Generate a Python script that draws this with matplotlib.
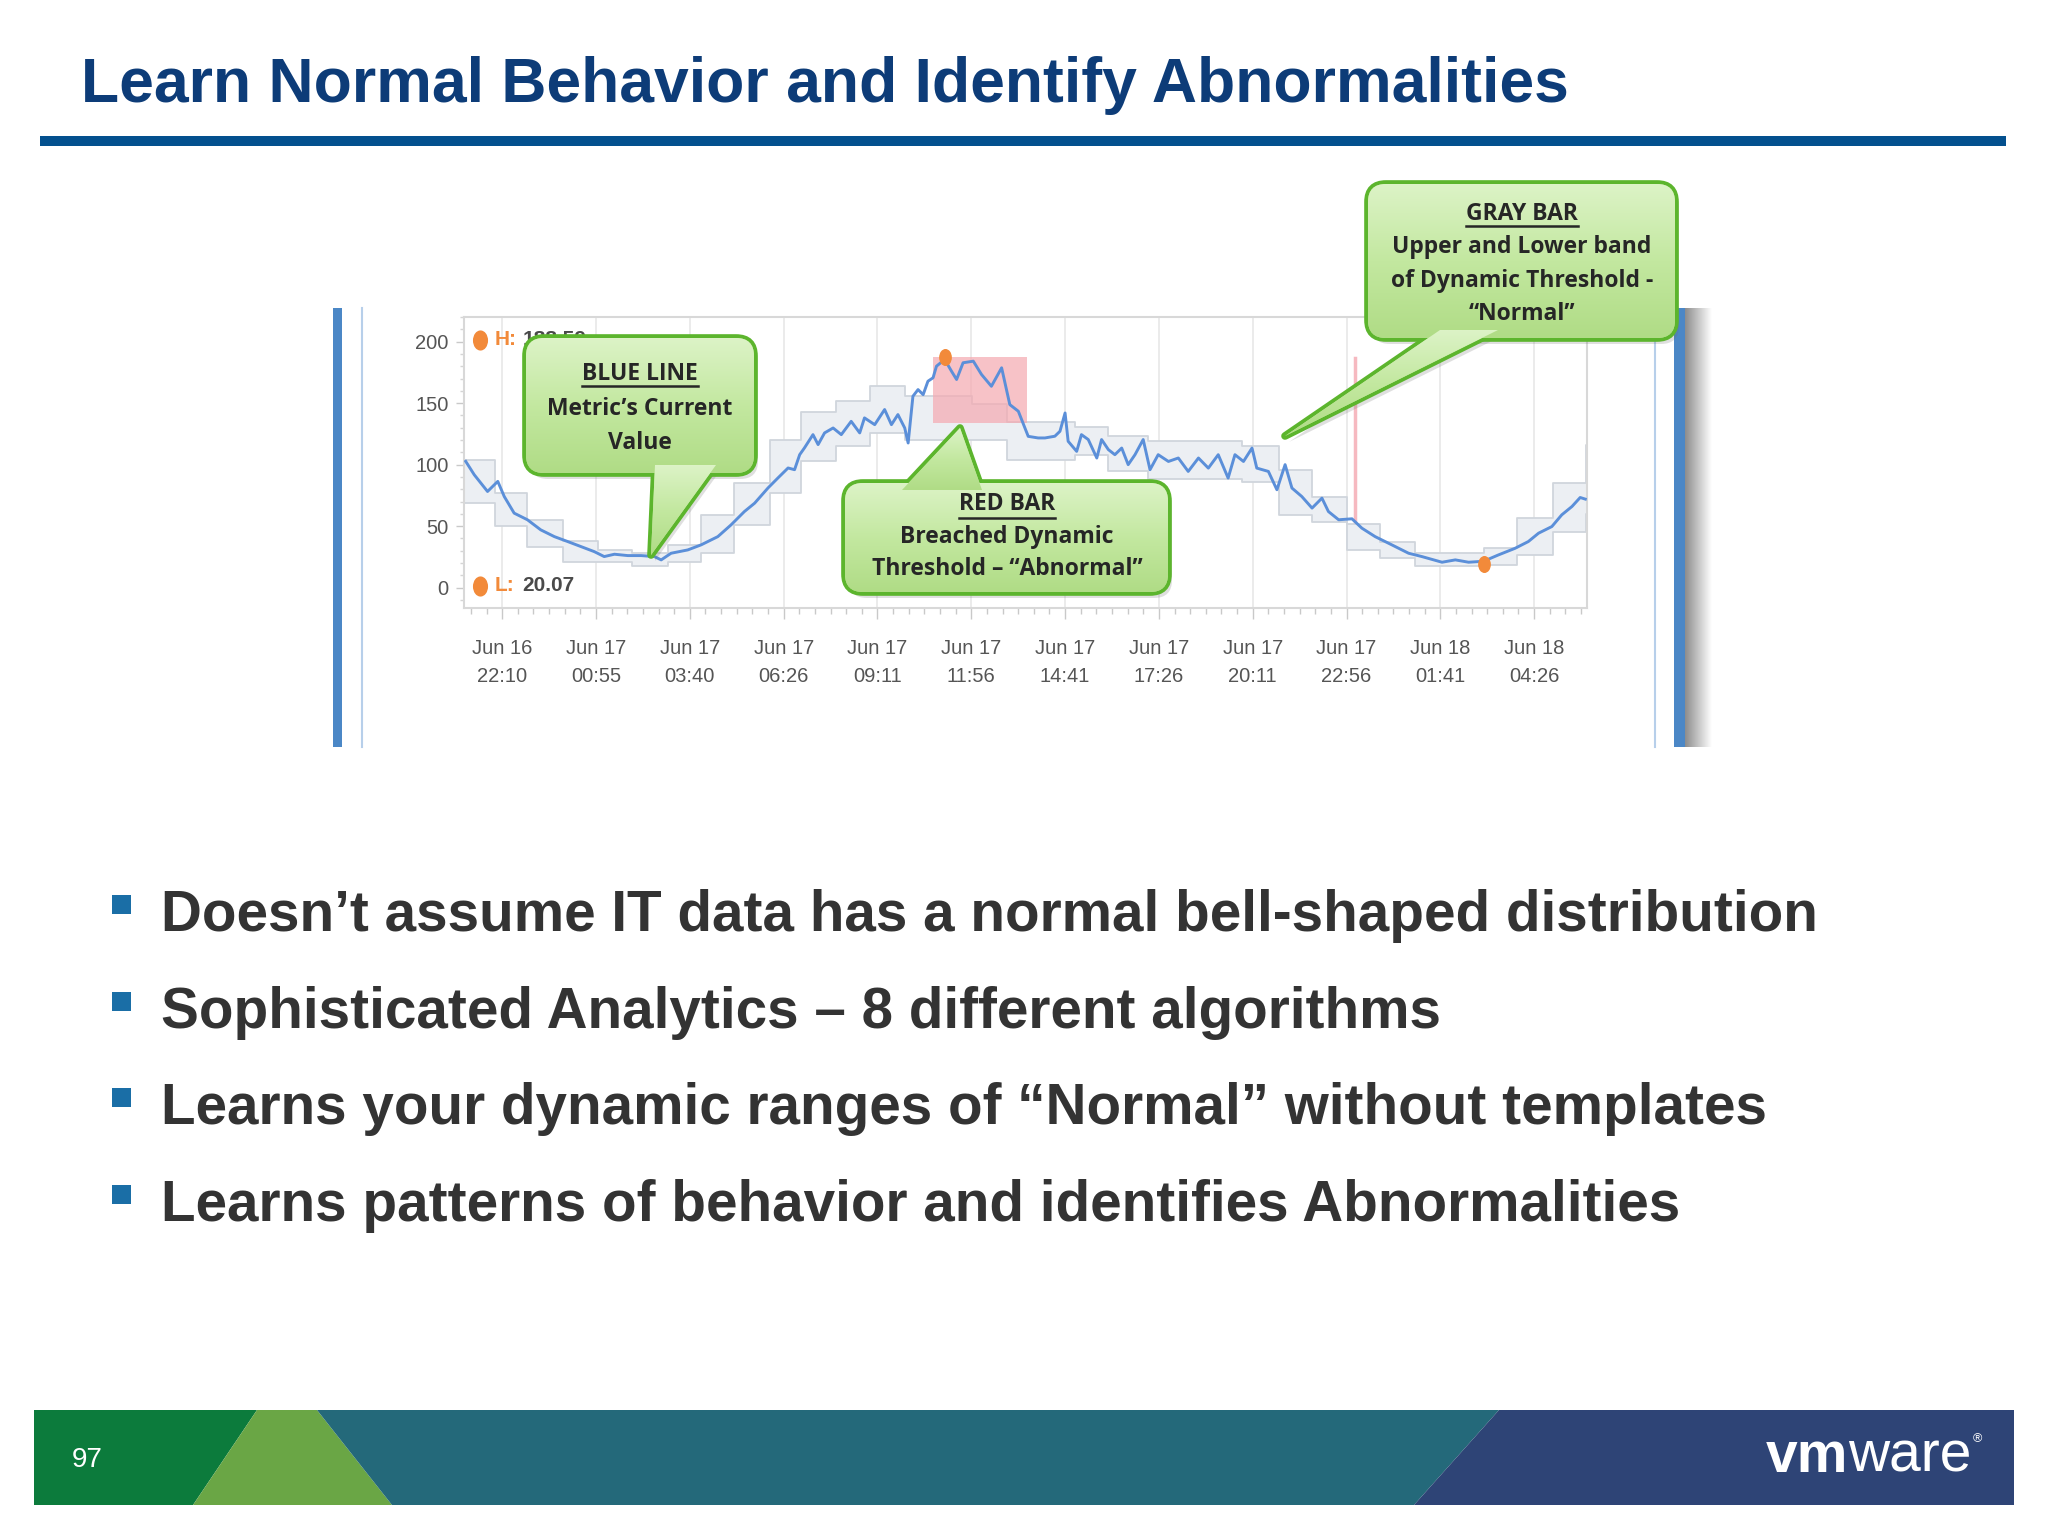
import numpy as np
import matplotlib
matplotlib.use('Agg')
import matplotlib.pyplot as plt
from matplotlib.patches import Rectangle, FancyBboxPatch, Polygon
from matplotlib.markers import MarkerStyle
from matplotlib.transforms import Affine2D
from matplotlib.colors import LinearSegmentedColormap
from matplotlib.ticker import MultipleLocator

W, H = 2048, 1536

title = 'Learn Normal Behavior and Identify Abnormalities'
bullets = [
    'Doesn\u2019t assume IT data has a normal bell-shaped distribution',
    'Sophisticated Analytics \u2013 8 different algorithms',
    'Learns your dynamic ranges of \u201cNormal\u201d without templates',
    'Learns patterns of behavior and identifies Abnormalities',
]
page_number = '97'

# chart x values are hours after Jun 16 22:10
tick_hours = [0, 2.75, 5.5, 8.25, 11, 13.75, 16.5, 19.25, 22, 24.75, 27.5, 30.25]
tick_labels = ['Jun 16\n22:10', 'Jun 17\n00:55', 'Jun 17\n03:40', 'Jun 17\n06:26',
               'Jun 17\n09:11', 'Jun 17\n11:56', 'Jun 17\n14:41', 'Jun 17\n17:26',
               'Jun 17\n20:11', 'Jun 17\n22:56', 'Jun 18\n01:41', 'Jun 18\n04:26']

metric_t = [-1.07, -0.82, -0.43, -0.13, 0.06, 0.35, 0.74, 1.13, 1.53, 1.92, 2.31, 2.70,
            2.99, 3.29, 3.68, 4.07, 4.46, 4.66, 4.95, 5.44, 5.83, 6.32, 6.71, 7.10, 7.40,
            7.79, 8.08, 8.38, 8.57, 8.72, 8.86, 9.11, 9.26, 9.45, 9.70, 9.94, 10.23, 10.48,
            10.62, 10.92, 11.21, 11.41, 11.60, 11.80, 11.90, 12.04, 12.19, 12.34, 12.48,
            12.63, 12.73, 12.97, 13.17, 13.32, 13.51, 13.81, 14.05, 14.34, 14.64, 14.88,
            15.13, 15.42, 15.71, 15.91, 16.20, 16.35, 16.50, 16.59, 16.84, 16.98, 17.18,
            17.43, 17.57, 17.77, 17.96, 18.16, 18.35, 18.55, 18.79, 18.99, 19.23, 19.53,
            19.82, 20.11, 20.41, 20.70, 20.99, 21.28, 21.48, 21.73, 21.98, 22.12, 22.46,
            22.71, 22.95, 23.15, 23.44, 23.74, 24.03, 24.22, 24.52, 24.91, 25.20, 25.59,
            26.08, 26.57, 26.96, 27.55, 27.94, 28.33, 28.77, 29.20, 29.69, 30.08, 30.38,
            30.77, 31.06, 31.36, 31.60, 31.75]
metric_v = [102.7, 91.8, 78.2, 86.4, 74.1, 60.6, 55.2, 47.0, 41.5, 37.5, 33.4, 29.3,
            25.3, 27.2, 26.1, 26.1, 25.3, 22.6, 28.0, 30.7, 34.8, 41.5, 51.1, 61.9, 68.7,
            81.0, 89.1, 97.3, 95.9, 108.1, 113.6, 124.4, 116.3, 125.8, 129.8, 124.4, 135.2, 125.8,
            138.0, 132.5, 144.8, 132.5, 140.7, 129.8, 117.6, 155.6, 161.0, 156.9, 167.8,
            170.6, 180.0, 185.5, 176.0, 169.2, 182.8, 184.1, 173.3, 163.7, 178.7, 148.8,
            143.4, 123.0, 121.7, 121.7, 123.1, 127.1, 142.0, 119.0, 110.8, 124.4, 120.4,
            105.4, 120.4, 112.2, 108.1, 113.5, 100.0, 108.1, 120.4, 95.9, 108.1, 102.6,
            105.4, 94.5, 105.4, 97.2, 108.1, 89.1, 108.1, 102.6, 113.5, 97.2, 94.5,
            79.6, 100.0, 81.0, 74.1, 64.7, 72.8, 61.9, 55.2, 56.0, 48.4, 41.5,
            34.8, 28.0, 25.3, 20.7, 22.6, 20.7, 21.5, 26.6, 32.0, 37.5, 44.3,
            49.7, 59.2, 66.0, 73.3, 72.0]

# dynamic threshold band (step starts, last value is the end)
band_t = [-1.12, -0.22, 0.72, 1.77, 2.80, 3.80, 4.85, 5.82, 6.80, 7.84, 8.77, 9.79, 10.77,
          11.80, 13.76, 14.79, 16.79, 17.77, 18.94, 21.68, 22.76, 23.74, 24.76, 25.74,
          26.77, 28.77, 29.76, 30.79, 31.77, 31.80]
band_hi = [104, 77, 55, 38, 31, 28, 35, 59, 85, 120, 143, 152, 164, 156, 149, 135, 131, 123,
           119, 115, 96, 74, 52, 37.5, 28, 32, 56.5, 85, 116, 116]
band_lo = [69, 50, 33, 21, 21, 18, 21, 28, 51, 77, 103, 115, 126, 120, 120, 104, 108, 95,
           88, 86, 59, 53, 31, 24, 18, 18.5, 26.6, 45.6, 60, 60]

breach_t = [12.63, 15.37]
breach_v = [134, 187.4]
alert_t = 25.0
alert_v = [54, 187]
high_t, high_v, high_label = 12.97, 187.5, '188.59'
low_t, low_v, low_label = 28.77, 19.0, '20.07'

sans = 'Liberation Sans'
callout_font = ['Open Sans', 'DejaVu Sans']
orange = '#f28a3a'

fig = plt.figure(figsize=(W / 100, H / 100), dpi=100)
fig.patch.set_facecolor('white')

bg = fig.add_axes([0, 0, 1, 1], zorder=0)
top = fig.add_axes([0, 0, 1, 1], zorder=2)
for a in (bg, top):
    a.set_xlim(0, W)
    a.set_ylim(H, 0)
    a.set_autoscale_on(False)
    a.axis('off')

# ---- title and rule
bg.text(81, 102, title, fontsize=45, fontweight='bold', color='#0d3c78',
        family=sans, va='baseline')
bg.add_patch(Rectangle((40, 136), 1966, 10, color='#03508e', lw=0))

# ---- chart panel frame
bg.add_patch(Rectangle((333, 308), 9, 439, color='#4b87c6', lw=0))
bg.plot([362, 362], [308, 747], color='#b7cfea', lw=1.5)
bg.plot([1655, 1655], [308, 747], color='#b7cfea', lw=1.5)
bg.add_patch(Rectangle((1674, 308), 11, 439, color='#4b87c6', lw=0))
shade = LinearSegmentedColormap.from_list('shade', ['#8d8d8d', '#ffffff'])
bg.imshow(np.linspace(0, 1, 64).reshape(1, -1), cmap=shade, extent=(1685, 1712, 747, 308),
          aspect='auto', interpolation='bilinear', zorder=1)

# ---- chart
ax = fig.add_axes([464 / W, 1 - 608 / H, 1123 / W, 291 / H], zorder=1)
ax.set_facecolor('white')
ax.fill_between(band_t, band_lo, band_hi, step='post', color='#eceff3', lw=0, zorder=1)
ax.step(band_t, band_hi, where='post', color='#d0d5dc', lw=1.3, zorder=1.5)
ax.step(band_t, band_lo, where='post', color='#d0d5dc', lw=1.3, zorder=1.5)
ax.add_patch(Rectangle((breach_t[0], breach_v[0]), breach_t[1] - breach_t[0],
                       breach_v[1] - breach_v[0], color='#f5a9b0', alpha=0.7, lw=0, zorder=2))
ax.plot([alert_t, alert_t], alert_v, color='#f6b9c0', lw=2.5, zorder=2)
ax.plot(metric_t, metric_v, color='#5b8fd9', lw=2.1, zorder=3)
dot = MarkerStyle('o', transform=Affine2D().scale(0.75, 1.0))
ax.scatter([high_t, low_t], [high_v, low_v], s=150, marker=dot, color=orange, lw=0, zorder=4)

ax.set_xlim(-1.12, 31.8)
ax.set_ylim(-16.5, 220)
ax.set_xticks(tick_hours, tick_labels)
ax.set_yticks([0, 50, 100, 150, 200])
ax.xaxis.set_minor_locator(MultipleLocator(2.75 / 6))
ax.yaxis.set_minor_locator(MultipleLocator(10))
ax.tick_params(axis='x', which='major', length=8, width=1, color='#c9c9c9', pad=14,
               labelsize=14.5, labelcolor='#555555')
ax.tick_params(axis='x', which='minor', length=4, width=1, color='#c9c9c9')
ax.tick_params(axis='y', which='major', length=6, width=1, color='#c9c9c9', pad=5,
               labelsize=14.5, labelcolor='#555555')
ax.tick_params(axis='y', which='minor', length=3, width=1, color='#d5d5d5')
for lab in ax.get_xticklabels() + ax.get_yticklabels():
    lab.set_family(sans)
for lab in ax.get_xticklabels():
    lab.set_linespacing(1.65)
ax.grid(axis='x', which='major', color='#e7e7e7', lw=1.2, zorder=0)
ax.set_axisbelow(True)
for sp in ax.spines.values():
    sp.set_color('#d8d8d8')
    sp.set_linewidth(1.5)

# high / low readouts
ax.scatter([0.0142, 0.0142], [0.921, 0.077], s=210, marker=dot, color=orange, lw=0,
           transform=ax.transAxes, clip_on=False, zorder=5)
for yy, key, val in ((0.921, 'H:', high_label), (0.077, 'L:', low_label)):
    ax.text(0.027, yy, key, transform=ax.transAxes, color=orange, fontsize=15,
            fontweight='bold', va='center', family=sans, zorder=5)
    ax.text(0.052, yy, val, transform=ax.transAxes, color='#4a4a4a', fontsize=15,
            fontweight='bold', va='center', family=sans, zorder=5)

# ---- callouts
green_cm = LinearSegmentedColormap.from_list('green', ['#dcf3c6', '#c3e8a0', '#b0dc86'])
edge = '#5cb52d'
renderer = fig.canvas.get_renderer()


def callout(box, tip, lines, cx, ys, ul_y, size):
    x0, y0, x1, y1 = box
    style = dict(boxstyle='round,pad=0,rounding_size=18')
    tip = np.array(tip, dtype=float)
    top.add_patch(FancyBboxPatch((x0 + 4, y0 + 6), x1 - x0, y1 - y0, fc='#6f6f6f',
                                 ec='none', alpha=0.22, zorder=10, **style))
    top.add_patch(Polygon(tip + [4, 6], fc='#6f6f6f', ec='none', alpha=0.22, zorder=10))
    top.add_patch(FancyBboxPatch((x0, y0), x1 - x0, y1 - y0, fc=edge, ec=edge, lw=5.5,
                                 zorder=11, **style))
    top.add_patch(Polygon(tip, fc=edge, ec=edge, lw=5.5, joinstyle='round', zorder=11))
    bp = FancyBboxPatch((x0, y0), x1 - x0, y1 - y0, fc='#c3e8a0', ec='none', zorder=12, **style)
    tp = Polygon(tip, fc='#c3e8a0', ec='none', zorder=12)
    top.add_patch(bp)
    top.add_patch(tp)
    grad = np.linspace(0, 1, 64).reshape(-1, 1)
    im = top.imshow(grad, cmap=green_cm, extent=(x0, x1, y1, y0), aspect='auto',
                    interpolation='bilinear', zorder=12.5)
    im.set_clip_path(bp)
    tx0, ty0 = tip.min(axis=0)
    tx1, ty1 = tip.max(axis=0)
    im2 = top.imshow(grad, cmap=green_cm, extent=(tx0, tx1, ty1, ty0), aspect='auto',
                     interpolation='bilinear', zorder=12.5)
    im2.set_clip_path(tp)
    for i, (s, y) in enumerate(zip(lines, ys)):
        t = top.text(cx, y, s, ha='center', va='center', fontsize=size, fontweight='bold',
                     family=callout_font, color='#262626', zorder=14)
        if i == 0:
            bb = t.get_window_extent(renderer)
            top.plot([bb.x0, bb.x1], [ul_y, ul_y], color='#262626', lw=1.8, zorder=14)


callout((526, 338, 754, 473), [(655, 465), (716, 465), (651, 555)],
        ['BLUE LINE', 'Metric\u2019s Current', 'Value'], 640, [374, 409, 443], 386, 16.5)
callout((845, 483, 1168, 592), [(902, 490), (960, 428), (982, 490)],
        ['RED BAR', 'Breached Dynamic', 'Threshold \u2013 \u201cAbnormal\u201d'],
        1007, [504, 537, 569], 518, 16.5)
callout((1368, 184, 1675, 338), [(1440, 330), (1285, 436), (1498, 330)],
        ['GRAY BAR', 'Upper and Lower band', 'of Dynamic Threshold -', '\u201cNormal\u201d'],
        1522, [214, 247, 281, 314], 226, 16.5)

# ---- bullets
for i, s in enumerate(bullets):
    y = 931 + 96.7 * i
    bg.add_patch(Rectangle((112, y - 36), 19, 19, color='#1a6ea6', lw=0))
    bg.text(161, y, s, fontsize=40.8, fontweight='bold', color='#333333',
            family=sans, va='baseline')

# ---- footer
bg.add_patch(Polygon([(34, 1410), (257, 1410), (193, 1505), (34, 1505)], color='#0c7b3c', lw=0))
bg.add_patch(Polygon([(257, 1410), (317, 1410), (392, 1505), (193, 1505)], color='#6aa645', lw=0))
bg.add_patch(Polygon([(317, 1410), (1499, 1410), (1414, 1505), (392, 1505)], color='#24697a', lw=0))
bg.add_patch(Polygon([(1499, 1410), (2014, 1410), (2014, 1505), (1414, 1505)], color='#2e4476', lw=0))
bg.text(72, 1460, page_number, fontsize=20, color='white', va='center', family=sans)
vm = bg.text(1766, 1472, 'vm', fontsize=41, fontweight='bold', color='white', va='baseline',
             family=sans)
bb = vm.get_window_extent(renderer)
ware = bg.text(bb.x1, 1472, 'ware', fontsize=41, color='white', va='baseline', family=sans)
bb = ware.get_window_extent(renderer)
bg.text(bb.x1 + 1, 1442, '\u00ae', fontsize=9, color='white', va='baseline', family=sans)

fig.savefig('out.png', dpi=100, facecolor='white')
